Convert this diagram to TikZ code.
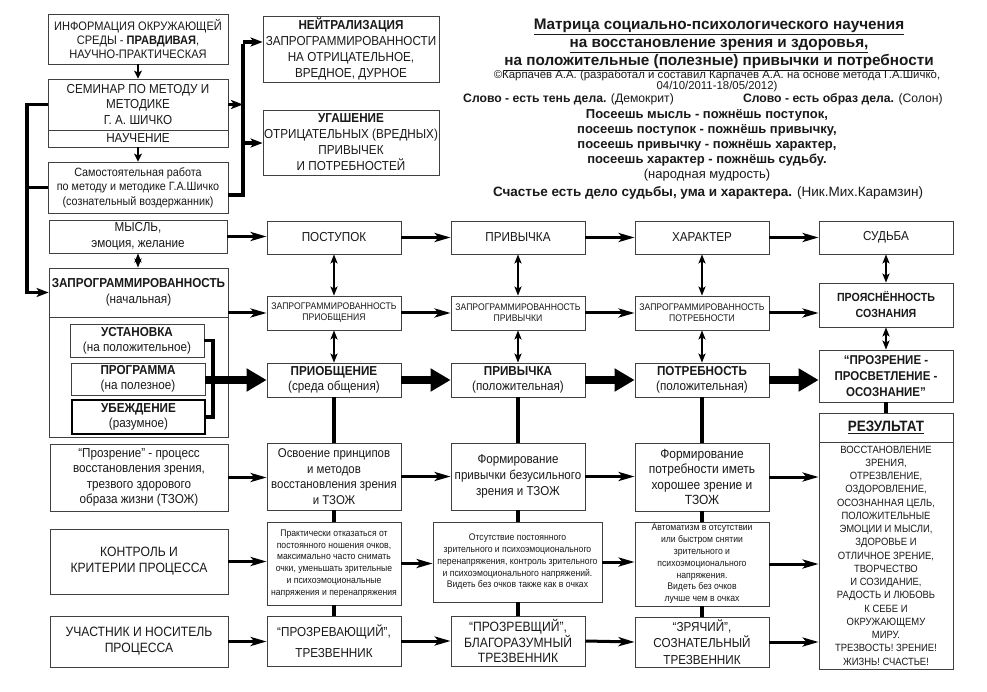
\documentclass[tikz,border=0pt]{standalone}
\usepackage{fontspec}
\setmainfont{Liberation Sans}
\newfontfamily\nf[FakeStretch=0.9]{Liberation Sans}
\usetikzlibrary{arrows.meta}
\newcommand\fA{\nf\fontsize{13}{15.5}\selectfont}
\newcommand\fAA{\nf\fontsize{13}{16}\selectfont}
\newcommand\fB{\nf\fontsize{12}{14.5}\selectfont}
\newcommand\fS{\nf\fontsize{9.6}{11}\selectfont}
\newcommand\fT{\nf\fontsize{9.6}{11.8}\selectfont}
\newcommand\fR{\nf\fontsize{10.5}{13.25}\selectfont}
\newcommand\BX[7]{\node[#6,minimum width={(#4)-(#2)},minimum height={(#5)-(#3)}] (#1) at ({((#2)+(#4))/2},{((#3)+(#5))/2}) {#7};}
\begin{document}
\begin{tikzpicture}[x=1pt,y=-1pt,
  box/.style={draw=black!75,line width=0.8pt,inner sep=0pt,align=center,text=black!90,font=\fA},
  arr/.style={line width=3pt,-{Stealth[length=16pt,width=9pt,inset=4pt]}},
  arrs/.style={line width=2.5pt,-{Stealth[length=8pt,width=8pt,inset=2pt]}},
  dbl/.style={line width=2.2pt,{Stealth[length=9pt,width=7pt,inset=2pt]}-{Stealth[length=9pt,width=7pt,inset=2pt]}},
  big/.style={line width=8pt,-{Triangle[length=20pt,width=22pt]}},
  bus/.style={line width=3.5pt},
  busarr/.style={line width=3.5pt,-{Stealth[length=12pt,width=9pt,inset=3pt]}},
  thk/.style={line width=4.5pt},
  txt/.style={inner sep=0pt,align=center,text=black!90}]
\useasboundingbox (0,0) rectangle (987,692);
\fill[white] (0,0) rectangle (987,692);

% ---------- top left ----------
\BX{info}{48}{14}{228}{64}{box,font=\nf\fontsize{12.3}{14}\selectfont}{ИНФОРМАЦИЯ ОКРУЖАЮЩЕЙ\\СРЕДЫ - \textbf{ПРАВДИВАЯ},\\НАУЧНО-ПРАКТИЧЕСКАЯ}
\BX{sem}{48}{79}{228}{130}{box}{СЕМИНАР ПО МЕТОДУ И\\МЕТОДИКЕ\\Г. А. ШИЧКО}
\BX{nauch}{48}{130}{228}{147}{box}{НАУЧЕНИЕ}
\BX{samost}{48}{162}{228}{213}{box,font=\fB}{Самостоятельная работа\\по методу и методике Г.А.Шичко\\(сознательный воздержанник)}
\BX{neutr}{263}{16}{439}{82}{box,font=\fAA}{\textbf{НЕЙТРАЛИЗАЦИЯ}\\ЗАПРОГРАММИРОВАННОСТИ\\НА ОТРИЦАТЕЛЬНОЕ,\\ВРЕДНОЕ, ДУРНОЕ}
\BX{ugash}{263}{110}{439}{175}{box,font=\fAA}{\textbf{УГАШЕНИЕ}\\ОТРИЦАТЕЛЬНЫХ (ВРЕДНЫХ)\\ПРИВЫЧЕК\\И ПОТРЕБНОСТЕЙ}

% ---------- left column ----------
\BX{mysl}{49}{220}{227}{253}{box}{МЫСЛЬ,\\эмоция, желание}
\BX{zapr}{49}{268}{228}{317}{box,font=\fAA}{\textbf{ЗАПРОГРАММИРОВАННОСТЬ}\\(начальная)}
\BX{cont}{49}{317}{228}{437}{box}{}
\BX{ustan}{70}{324}{204}{357}{box,font=\nf\fontsize{13}{15}\selectfont}{\textbf{УСТАНОВКА}\\(на положительное)}
\BX{progr}{71}{363}{205}{395}{box,font=\nf\fontsize{13}{15}\selectfont}{\textbf{ПРОГРАММА}\\(на полезное)}
\BX{ubezh}{72}{400}{205}{434}{box,draw=black,line width=1.2pt,font=\nf\fontsize{13}{15}\selectfont}{\textbf{УБЕЖДЕНИЕ}\\(разумное)}
\BX{prozrl}{50}{444}{228}{511}{box,font=\nf\fontsize{13}{15.5}\selectfont}{“Прозрение” - процесс\\восстановления зрения,\\трезвого здорового\\образа жизни (ТЗОЖ)}
\BX{kontr}{50}{529}{228}{594}{box,font=\nf\fontsize{13.5}{16}\selectfont}{КОНТРОЛЬ И\\КРИТЕРИИ ПРОЦЕССА}
\BX{uchast}{50}{616}{228}{667}{box,font=\nf\fontsize{13.5}{16}\selectfont}{УЧАСТНИК И НОСИТЕЛЬ\\ПРОЦЕССА}

% ---------- column 1 ----------
\BX{postup}{267}{221}{401}{254}{box}{ПОСТУПОК}
\BX{zprio}{267}{296}{401}{330}{box,font=\fS}{ЗАПРОГРАММИРОВАННОСТЬ\\ПРИОБЩЕНИЯ}
\BX{prio}{267}{363}{401}{397}{box,font=\nf\fontsize{13}{15}\selectfont}{\textbf{ПРИОБЩЕНИЕ}\\(среда общения)}
\BX{osvo}{267}{443}{401}{510}{box,font=\nf\fontsize{12.7}{15.5}\selectfont}{Освоение принципов\\и методов\\восстановления зрения\\и ТЗОЖ}
\BX{prakt}{267}{522}{401}{605}{box,font=\fT}{Практически отказаться от\\постоянного ношения очков,\\максимально часто снимать\\очки, уменьшать зрительные\\и психоэмоциональные\\напряжения и перенапряжения}
\BX{prozrev}{267}{616}{401}{666}{box,font=\nf\fontsize{13}{21}\selectfont}{“ПРОЗРЕВАЮЩИЙ”,\\ТРЕЗВЕННИК}

% ---------- column 2 ----------
\BX{privych}{451}{221}{585}{254}{box}{ПРИВЫЧКА}
\BX{zpriv}{451}{296}{585}{330}{box,font=\fS}{ЗАПРОГРАММИРОВАННОСТЬ\\ПРИВЫЧКИ}
\BX{privychb}{451}{363}{585}{397}{box,font=\nf\fontsize{13}{15}\selectfont}{\textbf{ПРИВЫЧКА}\\(положительная)}
\BX{formA}{451}{443}{585}{510}{box,font=\nf\fontsize{12.9}{16}\selectfont}{Формирование\\привычки безусильного\\зрения и ТЗОЖ}
\BX{otsut}{433}{522}{602}{602}{box,font=\fT}{Отсутствие постоянного\\зрительного и психоэмоционального\\перенапряжения, контроль зрительного\\и психоэмоционального напряжений.\\Видеть без очков также как в очках}
\BX{prozrevsh}{451}{616}{585}{666}{box,font=\nf\fontsize{13.5}{15.5}\selectfont}{“ПРОЗРЕВЩИЙ”,\\БЛАГОРАЗУМНЫЙ\\ТРЕЗВЕННИК}

% ---------- column 3 ----------
\BX{harakt}{635}{221}{769}{254}{box}{ХАРАКТЕР}
\BX{zpotr}{635}{296}{769}{330}{box,font=\fS}{ЗАПРОГРАММИРОВАННОСТЬ\\ПОТРЕБНОСТИ}
\BX{potreb}{635}{363}{769}{397}{box,font=\nf\fontsize{13}{15}\selectfont}{\textbf{ПОТРЕБНОСТЬ}\\(положительная)}
\BX{formB}{635}{443}{769}{511}{box,font=\nf\fontsize{13.3}{15.5}\selectfont}{Формирование\\потребности иметь\\хорошее зрение и\\ТЗОЖ}
\BX{avtom}{635}{522}{769}{606}{box,font=\fT}{Автоматизм в отсутствии\\или быстром снятии\\зрительного и\\психоэмоционального\\напряжения.\\Видеть без очков\\лучше чем в очках}
\BX{zryach}{635}{617}{769}{667}{box,font=\nf\fontsize{13}{16.5}\selectfont}{“ЗРЯЧИЙ”,\\СОЗНАТЕЛЬНЫЙ\\ТРЕЗВЕННИК}

% ---------- column 4 ----------
\BX{sudba}{819}{221}{953}{254}{box}{СУДЬБА}
\BX{proyas}{819}{283}{953}{327}{box,font=\bfseries\nf\fontsize{11.8}{16}\selectfont}{ПРОЯСНЁННОСТЬ\\СОЗНАНИЯ}
\BX{prozren}{819}{350}{953}{402}{box,font=\bfseries\nf\fontsize{12.8}{16}\selectfont}{“ПРОЗРЕНИЕ -\\ПРОСВЕТЛЕНИЕ -\\ОСОЗНАНИЕ”}
\BX{rezhead}{819}{413}{953}{442}{box,font=\bfseries\nf\fontsize{15}{16}\selectfont}{\underline{РЕЗУЛЬТАТ}}
\BX{rezbody}{819}{442}{953}{669}{box,font=\fR}{ВОССТАНОВЛЕНИЕ\\ЗРЕНИЯ,\\ОТРЕЗВЛЕНИЕ,\\ОЗДОРОВЛЕНИЕ,\\ОСОЗНАННАЯ ЦЕЛЬ,\\ПОЛОЖИТЕЛЬНЫЕ\\ЭМОЦИИ И МЫСЛИ,\\ЗДОРОВЬЕ И\\ОТЛИЧНОЕ ЗРЕНИЕ,\\ТВОРЧЕСТВО\\И СОЗИДАНИЕ,\\РАДОСТЬ И ЛЮБОВЬ\\К СЕБЕ И\\ОКРУЖАЮЩЕМУ\\МИРУ.\\ТРЕЗВОСТЬ! ЗРЕНИЕ!\\ЖИЗНЬ! СЧАСТЬЕ!}

% ---------- title and quotes ----------
\node[txt,font=\bfseries\fontsize{15.3}{18}\selectfont] (title) at (719,45) {\underline{Матрица социально-психологического научения}\\\underline{на восстановление зрения и здоровья,}\\\underline{на положительные (полезные) привычки и потребности}};
\node[txt,font=\fontsize{11.4}{13}\selectfont] (copy) at (717,75.5) {©Карпачёв А.А. (разработал и составил Карпачёв А.А. на основе метода Г.А.Шичко,};
\node[txt,font=\fontsize{11.4}{13}\selectfont] (date) at (717,87) {04/10/2011-18/05/2012)};
\node[txt,anchor=west,font=\fontsize{12.2}{15}\selectfont] (q1) at (463,99.5) {\textbf{Слово - есть тень дела.} (Демокрит)};
\node[txt,anchor=east,font=\fontsize{12.2}{15}\selectfont] (q2) at (943,99.5) {\textbf{Слово - есть образ дела.} (Солон)};
\node[txt,font=\bfseries\fontsize{13}{15}\selectfont] (prov) at (707,145.5) {Посеешь мысль - пожнёшь поступок,\\посеешь поступок - пожнёшь привычку,\\посеешь привычку - пожнёшь характер,\\посеешь характер - пожнёшь судьбу.\\\mdseries(народная мудрость)};
\node[txt,font=\fontsize{13.5}{15}\selectfont] (q3) at (708,193) {\textbf{Счастье есть дело судьбы, ума и характера.} (Ник.Мих.Карамзин)};

% ---------- connectors: top left ----------
\draw[arrs] (info.south) -- (sem.north);
\draw[arrs] (nauch.south) -- (samost.north);
\coordinate (lx) at (27,0);
\draw[busarr] (sem.west) -- (sem.west -| lx) |- (zapr.west);
\draw[bus] (samost.west) -- (samost.west -| lx);
\coordinate (rt) at (243,42);
\coordinate (ru) at (243,143);
\coordinate (rb) at (243,195);
\draw[bus] (samost.east |- rb) -- (rb) -- ([yshift=-1.75pt]rt);
\draw[busarr] (sem.east) -- (sem.east -| rt);
\draw[busarr] (rt) -- (rt -| neutr.west);
\draw[busarr] (ru) -- (ru -| ugash.west);

% ---------- rows ----------
\draw[arr] (mysl.east) -- (mysl.east -| postup.west);
\draw[arr] (postup.east) -- (privych.west);
\draw[arr] (privych.east) -- (harakt.west);
\draw[arr] (harakt.east) -- (sudba.west);

\draw[arr] (zapr.east |- zprio.west) -- (zprio.west);
\draw[arr] (zprio.east) -- (zpriv.west);
\draw[arr] (zpriv.east) -- (zpotr.west);
\draw[arr] (zpotr.east) -- (zpotr.east -| proyas.west);

\coordinate (bx) at (213,0);
\draw[line width=3.5pt] (ustan.east) -- (ustan.east -| bx) -- (ubezh.east -| bx) -- (ubezh.east);
\draw[big] (prio.west -| progr.east) -- (prio.west);
\draw[big] (prio.east) -- (privychb.west);
\draw[big] (privychb.east) -- (potreb.west);
\draw[big] (potreb.east) -- (potreb.east -| prozren.west);

\draw[arr] (prozrl.east) -- (prozrl.east -| osvo.west);
\draw[arr] (osvo.east) -- (osvo.east -| formA.west);
\draw[arr] (formA.east) -- (formA.east -| formB.west);
\draw[arr] (formB.east) -- (formB.east -| rezbody.west);

\draw[arr] (kontr.east) -- (kontr.east -| prakt.west);
\draw[arr] (prakt.east) -- (prakt.east -| otsut.west);
\draw[arr] (otsut.east) -- (otsut.east -| avtom.west);
\draw[arr] (avtom.east) -- (avtom.east -| rezbody.west);

\draw[arr] (uchast.east) -- (uchast.east -| prozrev.west);
\draw[arr] (prozrev.east) -- (prozrevsh.west);
\draw[arr] (prozrevsh.east) -- (zryach.west);
\draw[arr] (zryach.east) -- (zryach.east -| rezbody.west);

% ---------- verticals ----------
\draw[dbl] (mysl.south) -- (mysl.south |- zapr.north);
\draw[dbl] (postup.south) -- (zprio.north);
\draw[dbl] (zprio.south) -- (prio.north);
\draw[dbl] (privych.south) -- (zpriv.north);
\draw[dbl] (zpriv.south) -- (privychb.north);
\draw[dbl] (harakt.south) -- (zpotr.north);
\draw[dbl] (zpotr.south) -- (potreb.north);
\draw[dbl] (sudba.south) -- (proyas.north);
\draw[dbl] (proyas.south) -- (prozren.north);

\draw[thk] (prio.south) -- (osvo.north);
\draw[thk] (osvo.south) -- (prakt.north);
\draw[thk] (prakt.south) -- (prozrev.north);
\draw[thk] (privychb.south) -- (formA.north);
\draw[thk] (formA.south) -- (otsut.north -| formA.south);
\draw[thk] (otsut.south -| prozrevsh.north) -- (prozrevsh.north);
\draw[thk] (potreb.south) -- (formB.north);
\draw[thk] (formB.south) -- (avtom.north);
\draw[thk] (avtom.south) -- (zryach.north);
\draw[thk] (prozren.south) -- (rezhead.north);
\end{tikzpicture}
\end{document}
